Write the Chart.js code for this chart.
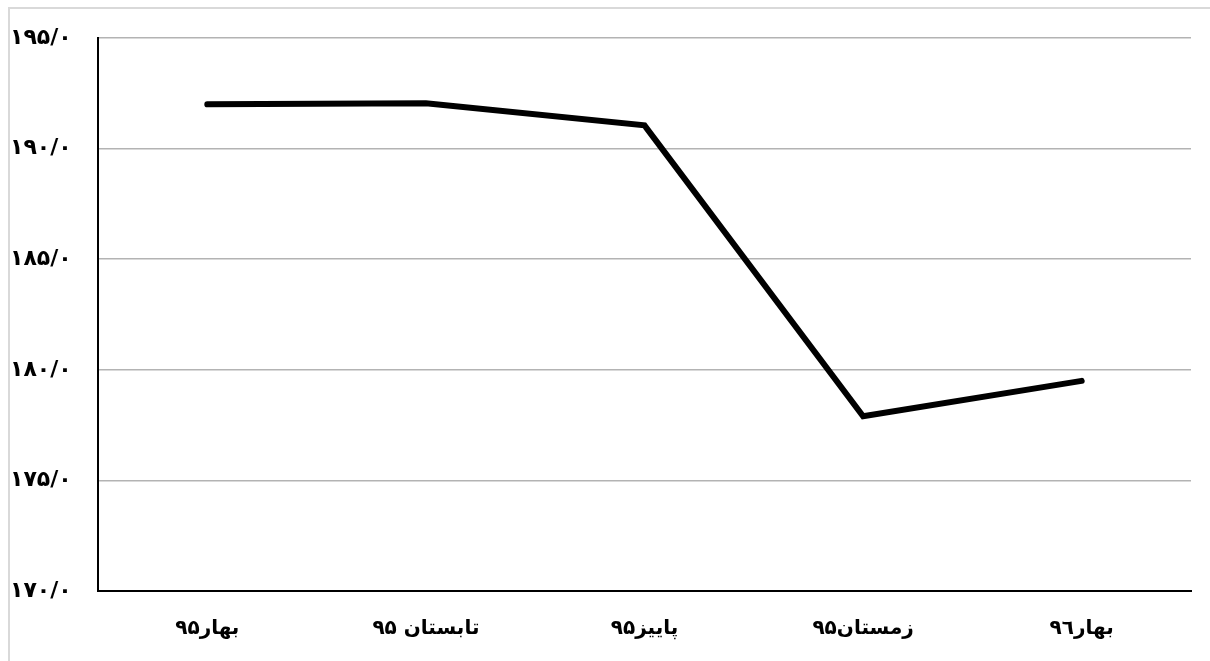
<!DOCTYPE html>
<html>
<head>
<meta charset="utf-8">
<script src="https://cdn.jsdelivr.net/npm/chart.js@4"></script>
<style>
  html, body { margin: 0; padding: 0; background: #fff; }
  #wrap { position: relative; width: 1210px; height: 661px; overflow: hidden; }
  #frameTop { position: absolute; left: 8px; top: 7px; width: 1202px; height: 2px; background: #d9d9d9; }
  #frameLeft { position: absolute; left: 8px; top: 7px; width: 2px; height: 654px; background: #d9d9d9; }
  canvas { position: absolute; left: 0; top: 0; }
</style>
</head>
<body>
<div id="wrap">
  <canvas id="c" width="1210" height="661"></canvas>
  <div id="frameTop"></div>
  <div id="frameLeft"></div>
</div>
<script>
const categories = ['بهار۹۵', 'تابستان ۹۵', 'پاییز۹۵', 'زمستان۹۵', 'بهار۹٦'];
const values = [192.0, 192.05, 191.05, 177.9, 179.5];
const yTickValues = [170, 175, 180, 185, 190, 195];
const yTickLabels = ['۱۷۰/۰', '۱۷۵/۰', '۱۸۰/۰', '۱۸۵/۰', '۱۹۰/۰', '۱۹۵/۰'];

const fontFamily = '"DejaVu Sans", "Noto Sans", sans-serif';

new Chart(document.getElementById('c'), {
  type: 'line',
  data: {
    labels: categories,
    datasets: [{
      data: values,
      borderColor: '#000',
      borderWidth: 6,
      pointRadius: 0,
      tension: 0,
      borderCapStyle: 'round',
      borderJoinStyle: 'miter',
      fill: false
    }]
  },
  options: {
    responsive: false,
    devicePixelRatio: 1,
    animation: false,
    layout: { padding: { top: 38, left: 10, right: 19, bottom: 0 } },
    plugins: { legend: { display: false }, tooltip: { enabled: false } },
    scales: {
      x: {
        offset: true,
        afterFit: (axis) => { axis.height = 70; },
        grid: { display: false, drawTicks: false },
        border: { color: '#000', width: 2 },
        ticks: { color: '#000', font: { family: fontFamily, size: 20, weight: 'bold' }, padding: 26, maxRotation: 0 }
      },
      y: {
        min: 170, max: 195,
        afterBuildTicks: (axis) => { axis.ticks = yTickValues.map(v => ({ value: v })); },
        afterFit: (axis) => { axis.width = 88; },
        grid: { color: '#b3b3b3', lineWidth: 1.5, drawTicks: false },
        border: { color: '#000', width: 2 },
        ticks: {
          color: '#000',
          crossAlign: 'far',
          padding: 10,
          font: { family: fontFamily, size: 22, weight: 'bold' },
          callback: (v) => yTickLabels[yTickValues.indexOf(v)]
        }
      }
    }
  }
});
</script>
</body>
</html>
